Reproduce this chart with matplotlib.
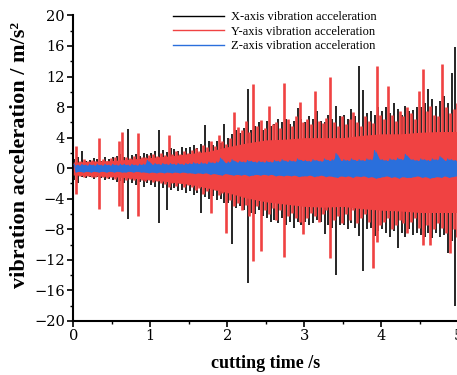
"""Vibration acceleration vs cutting time (X / Y / Z axes)"""
import matplotlib
matplotlib.use('Agg')
import matplotlib.pyplot as plt
import numpy as np
from matplotlib.ticker import MultipleLocator

# peak values, one per 0.05 s window (10 windows per row = 0.5 s)
window = 0.05

x_hi = [1.2, 1.5, 2.2, 1.0, 1.1, 1.3, 1.2, 1.0, 1.4, 1.2,
        1.5, 1.6, 1.8, 1.4, 5.1, 1.7, 1.9, 1.6, 2.0, 1.8,
        2.0, 2.2, 5.0, 2.4, 2.1, 2.6, 2.5, 2.3, 2.8, 2.6,
        2.8, 3.0, 2.7, 3.2, 5.6, 3.5, 3.0, 3.6, 3.3, 5.8,
        4.0, 4.5, 5.0, 4.6, 5.2, 10.4, 5.0, 5.5, 6.0, 5.0,
        6.2, 5.5, 5.8, 6.5, 6.0, 6.4, 5.8, 6.2, 7.9, 6.5,
        6.0, 6.8, 6.5, 7.5, 6.2, 6.0, 7.0, 6.5, 8.1, 6.8,
        7.0, 6.5, 7.8, 6.8, 13.4, 10.2, 7.2, 7.5, 7.0, 8.0,
        7.5, 8.0, 7.2, 8.5, 7.8, 7.0, 8.2, 7.5, 7.6, 8.0,
        8.0, 8.5, 10.4, 9.0, 8.2, 8.8, 9.5, 8.5, 12.5, 15.8]
x_lo = [-1.5, -2.0, -1.2, -1.3, -1.1, -1.4, -1.2, -1.3, -1.5, -1.4,
        -1.6, -1.8, -1.7, -2.0, -6.6, -1.9, -2.2, -1.8, -2.4, -2.0,
        -2.2, -2.5, -7.2, -2.6, -5.5, -2.8, -2.6, -3.0, -2.8, -3.2,
        -3.0, -3.5, -3.2, -5.8, -3.8, -4.0, -3.6, -4.2, -4.0, -4.5,
        -4.5, -9.9, -5.2, -5.0, -5.5, -15.0, -5.8, -6.0, -5.5, -6.2,
        -6.5, -7.0, -6.8, -7.2, -6.5, -7.5, -7.0, -7.8, -7.0, -7.5,
        -7.0, -7.5, -7.2, -6.8, -7.0, -8.6, -7.5, -7.8, -14.0, -7.5,
        -7.5, -8.0, -7.2, -7.8, -8.9, -13.5, -8.0, -7.8, -8.9, -8.2,
        -8.0, -8.5, -9.0, -8.2, -10.4, -8.5, -9.0, -8.0, -8.8, -8.5,
        -8.8, -9.0, -8.5, -9.2, -8.5, -9.0, -8.8, -11.1, -9.5, -18.0]

y_hi = [2.9, 1.0, 1.2, 0.9, 1.1, 1.0, 3.9, 1.2, 1.0, 1.3,
        1.4, 3.6, 4.7, 1.5, 1.3, 1.6, 4.6, 1.4, 1.5, 1.7,
        1.8, 1.6, 2.0, 1.7, 4.3, 1.9, 2.2, 1.8, 2.3, 2.0,
        2.4, 2.6, 2.3, 3.1, 2.8, 3.5, 2.9, 4.4, 3.6, 3.2,
        4.0, 7.4, 5.4, 5.0, 6.2, 4.8, 11.0, 5.5, 6.3, 5.2,
        8.1, 5.8, 6.0, 5.2, 11.1, 6.4, 5.5, 6.8, 8.7, 6.0,
        6.5, 5.8, 10.1, 6.2, 5.9, 6.6, 12.0, 6.0, 5.5, 6.8,
        5.8, 6.5, 7.4, 6.0, 5.5, 6.8, 6.2, 5.9, 13.4, 7.0,
        6.5, 10.7, 7.0, 6.2, 7.5, 6.8, 8.0, 7.2, 6.5, 10.1,
        13.0, 7.5, 8.2, 7.0, 6.8, 13.7, 8.0, 7.2, 7.8, 8.5]
y_lo = [-3.4, -1.0, -1.2, -1.0, -1.1, -1.2, -5.4, -1.1, -1.3, -1.2,
        -1.4, -4.9, -5.6, -1.5, -1.4, -1.6, -6.2, -1.5, -1.7, -1.6,
        -1.8, -1.7, -2.0, -2.1, -2.5, -1.9, -2.3, -2.0, -2.4, -2.2,
        -2.5, -2.8, -2.6, -3.4, -3.0, -5.8, -2.9, -3.5, -3.2, -8.5,
        -4.2, -5.0, -4.5, -5.5, -4.8, -6.2, -12.1, -5.0, -10.8, -5.5,
        -6.0, -5.2, -6.8, -5.5, -11.6, -6.2, -5.8, -6.5, -7.0, -8.6,
        -6.5, -5.8, -6.2, -7.0, -6.0, -5.5, -11.7, -6.8, -6.2, -7.2,
        -6.0, -6.8, -5.5, -7.2, -6.5, -6.0, -7.0, -13.1, -9.7, -7.5,
        -7.0, -6.5, -8.0, -7.5, -6.8, -7.2, -8.5, -7.0, -6.5, -7.8,
        -10.0, -7.5, -10.0, -8.0, -7.2, -7.8, -8.5, -11.1, -8.0, -9.0]

z_hi = [0.5, 0.4, 0.5, 0.4, 0.5, 0.4, 0.5, 0.4, 0.5, 0.4,
        0.5, 0.4, 0.5, 0.5, 0.4, 0.5, 0.4, 0.5, 0.5, 1.0,
        0.5, 0.6, 0.5, 0.6, 0.5, 0.6, 0.5, 0.6, 0.5, 0.6,
        0.6, 0.7, 0.6, 0.7, 0.6, 0.8, 0.7, 0.8, 1.3, 0.7,
        0.8, 1.1, 0.8, 0.9, 0.8, 1.0, 0.9, 0.8, 0.9, 0.8,
        0.9, 0.8, 1.0, 0.9, 1.1, 0.9, 1.0, 0.9, 1.2, 1.0,
        1.0, 0.9, 1.1, 1.0, 0.9, 1.2, 1.0, 1.1, 1.9, 1.0,
        1.1, 1.0, 1.2, 1.0, 1.1, 1.0, 1.2, 1.1, 2.3, 1.2,
        1.1, 1.0, 1.2, 1.1, 1.3, 1.1, 1.8, 1.2, 1.1, 1.0,
        1.2, 1.1, 1.0, 1.2, 1.1, 1.5, 1.0, 1.2, 1.1, 1.0]
z_lo = [-0.5, -0.4, -0.5, -0.4, -0.5, -0.4, -0.5, -0.4, -0.5, -0.4,
        -0.5, -0.4, -0.5, -0.5, -0.4, -0.5, -0.4, -0.5, -0.5, -0.6,
        -0.5, -0.6, -0.5, -0.6, -0.5, -0.6, -0.5, -0.6, -0.5, -0.6,
        -0.6, -0.7, -0.6, -0.7, -0.6, -0.8, -0.7, -0.8, -0.9, -0.7,
        -0.8, -0.9, -0.8, -0.9, -0.8, -1.0, -0.9, -0.8, -0.9, -0.8,
        -0.9, -0.8, -1.0, -0.9, -1.0, -0.9, -1.0, -0.9, -1.1, -1.0,
        -1.0, -0.9, -1.1, -1.0, -0.9, -1.1, -1.0, -1.1, -1.2, -1.0,
        -1.1, -1.0, -1.2, -1.0, -1.1, -1.0, -1.2, -1.1, -1.3, -1.2,
        -1.1, -1.0, -1.2, -1.1, -1.3, -1.1, -1.2, -1.2, -1.1, -1.0,
        -1.2, -1.1, -1.3, -1.2, -1.1, -1.2, -1.0, -1.2, -1.1, -1.0]

# solid core of the red (Y) trace, read every 0.25 s
core_t = [0.0, 0.25, 0.5, 0.75, 1.0, 1.25, 1.5, 1.75, 2.0, 2.25, 2.5,
          2.75, 3.0, 3.25, 3.5, 3.75, 4.0, 4.25, 4.5, 4.75, 5.0]
y_core_hi = [0.8, 0.9, 1.0, 1.2, 1.4, 1.6, 1.9, 2.2, 2.8, 3.3, 3.7,
             3.8, 4.0, 4.0, 4.0, 4.3, 4.5, 4.5, 4.7, 4.8, 4.8]
y_core_lo = [-0.9, -1.0, -1.1, -1.3, -1.5, -1.8, -2.1, -2.6, -3.2, -3.9, -4.4,
             -4.7, -5.0, -5.1, -5.0, -5.3, -5.5, -5.6, -5.8, -5.8, -5.8]

labels = ['X-axis vibration acceleration',
          'Y-axis vibration acceleration',
          'Z-axis vibration acceleration']
colors = ['#000000', '#f04242', '#2a6fdc']


def zigzag(hi, lo):
    """interleave positive and negative peaks of each window"""
    n = len(hi)
    idx = np.arange(n)
    t = np.empty(2 * n)
    v = np.empty(2 * n)
    t[0::2] = (idx + 0.25) * window
    t[1::2] = (idx + 0.75) * window
    v[0::2] = hi
    v[1::2] = lo
    return t, v


plt.rcParams['font.family'] = ['Liberation Serif', 'DejaVu Serif']

fig = plt.figure(figsize=(4.57, 3.75), dpi=100)
ax = fig.add_axes([0.1604, 0.144, 0.8425, 0.815])

idx = np.arange(len(x_hi))
t_x = (idx + 0.25) * window   # black strokes sit between the red ones
t_y = (idx + 0.75) * window
t_z = (idx + 0.5) * window

# X axis (black)
ax.vlines(t_x, x_lo, x_hi, color=colors[0], lw=1.2, zorder=2)
# Y axis (red): solid core + strokes
ax.fill_between(core_t, y_core_lo, y_core_hi, color=colors[1], lw=0, zorder=3)
ax.vlines(t_y, y_lo, y_hi, color=colors[1], lw=1.9, zorder=4)
# Z axis (blue): band + zigzag between its peaks
ax.fill_between(t_z, z_lo, z_hi, color=colors[2], lw=0, zorder=5)
ax.plot(*zigzag(z_hi, z_lo), color=colors[2], lw=0.9, zorder=6)

handles = [ax.plot([], [], color=c, lw=1.0)[0] for c in colors]

ax.set_xlim(0, 5)
ax.set_ylim(-20, 20)
ax.xaxis.set_major_locator(MultipleLocator(1))
ax.xaxis.set_minor_locator(MultipleLocator(0.5))
ax.yaxis.set_major_locator(MultipleLocator(4))
ax.yaxis.set_minor_locator(MultipleLocator(2))
ax.tick_params(which='major', direction='out', length=4, width=1.2, pad=2)
ax.tick_params(which='minor', direction='out', length=2.5, width=1.0)
for tl in ax.get_xticklabels() + ax.get_yticklabels():
    tl.set_fontfamily('DejaVu Serif')
    tl.set_fontsize(10.5)

for side in ['top', 'right']:
    ax.spines[side].set_visible(False)
for side in ['left', 'bottom']:
    ax.spines[side].set_linewidth(1.5)

ax.set_xlabel('cutting time /s', fontsize=13, fontweight='bold')
ax.set_ylabel('vibration acceleration / m/s²', fontsize=16, fontweight='bold')
ax.xaxis.set_label_coords(0.5, -0.11)
ax.yaxis.set_label_coords(-0.112, 0.543)

ax.legend(handles, labels, loc='upper left', bbox_to_anchor=(0.23, 1.05),
          frameon=False, fontsize=9, handlelength=4.1, handletextpad=0.5,
          labelspacing=0.2)

plt.savefig('out.png', dpi=100)
plt.close()
